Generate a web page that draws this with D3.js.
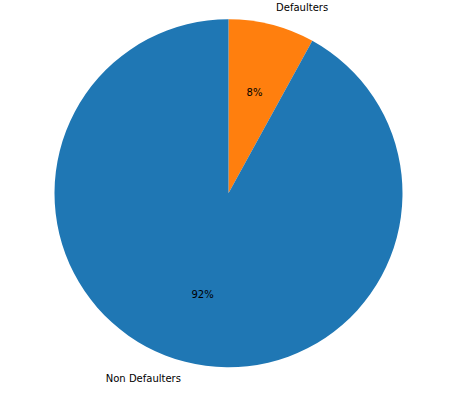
<!DOCTYPE html>
<html><head><meta charset="utf-8">
<script src="https://cdn.jsdelivr.net/npm/d3@7"></script>
<style>body{margin:0;background:#fff}svg{display:block}text{font-family:"DejaVu Sans",sans-serif;font-size:10px;fill:#000}</style>
</head><body>
<script>
const labels = ["Defaulters", "Non Defaulters"];
const values = [8, 92];
const colors = ["#ff7f0e", "#1f77b4"];

const W = 473, H = 409, cx = 228.5, cy = 193.3, r = 174;
const svg = d3.select("body").append("svg").attr("width", W).attr("height", H);
const g = svg.append("g").attr("transform", `translate(${cx},${cy})`);
const pie = d3.pie().sort(null).value(d => d)(values);
const arc = d3.arc().innerRadius(0).outerRadius(r);
g.selectAll("path").data(pie).join("path").attr("d", arc).attr("fill", (d, i) => colors[i]);

const total = d3.sum(values);
pie.forEach((d, i) => {
  const a = (d.startAngle + d.endAngle) / 2;
  const sx = Math.sin(a), sy = -Math.cos(a);
  g.append("text").attr("x", 1.1 * r * sx).attr("y", 1.1 * r * sy)
    .attr("text-anchor", sx >= 0 ? "start" : "end").attr("dy", "0.35em").text(labels[i]);
  g.append("text").attr("x", 0.6 * r * sx).attr("y", 0.6 * r * sy)
    .attr("text-anchor", "middle").attr("dy", "0.35em")
    .text(Math.round(values[i] / total * 100) + "%");
});
</script>
</body></html>
